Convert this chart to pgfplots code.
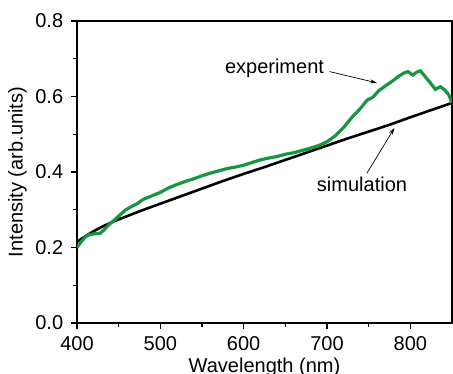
\documentclass[border=0pt]{standalone}
\usepackage{pgfplots}
\pgfplotsset{compat=1.18}
\usepackage{fontspec}
\setmainfont{Liberation Sans}
\usetikzlibrary{arrows.meta}
\definecolor{expgreen}{RGB}{22,150,62}
\begin{document}
\fontsize{20}{24}\selectfont
\begin{tikzpicture}
\begin{axis}[
  scale only axis,
  width=375pt, height=302pt,
  xmin=400, xmax=850, ymin=0, ymax=0.8,
  xtick={400,500,600,700,800},
  minor xtick={450,550,650,750},
  ytick={0,0.2,0.4,0.6,0.8},
  minor ytick={0.1,0.3,0.5,0.7},
  tick align=outside,
  major tick length=6pt,
  minor tick length=4pt,
  xtick pos=bottom, ytick pos=left,
  axis line style={line width=1.4pt},
  every tick/.style={line width=1.4pt, black},
  yticklabel style={/pgf/number format/fixed, /pgf/number format/precision=1, /pgf/number format/fixed zerofill, xshift=-1pt},
  xticklabel style={yshift=-1pt},
  /pgf/number format/assume math mode=true,
  tick label style={font=\fontsize{20}{24}\selectfont},
  label style={font=\fontsize{20}{24}\selectfont},
  xlabel={Wavelength (nm)},
  ylabel={Intensity (arb.units)},
  xlabel style={yshift=7pt},
  ylabel style={yshift=-5pt},
  clip=true,
]
\addplot[black, line width=2.6pt] coordinates {
(400,0.215) (410,0.230) (420,0.243) (430,0.255) (445,0.270) (460,0.283)
(480,0.300) (500,0.316) (525,0.336) (550,0.356) (575,0.376) (600,0.395)
(625,0.413) (650,0.432) (675,0.451) (700,0.470) (725,0.489) (750,0.507)
(775,0.525) (800,0.545) (825,0.564) (850,0.583)
};
\addplot[expgreen, line width=3.2pt] coordinates {
(400,0.200) (405,0.215) (410,0.228) (415,0.234) (420,0.236) (428,0.238)
(433,0.248) (438,0.260) (445,0.273) (452,0.287) (458,0.299) (465,0.308)
(472,0.316) (480,0.328) (490,0.337) (500,0.346) (510,0.358) (520,0.367)
(530,0.375) (540,0.382) (550,0.390) (560,0.397) (570,0.403) (580,0.409)
(590,0.413) (600,0.418) (610,0.425) (620,0.432) (630,0.437) (640,0.441)
(650,0.447) (660,0.451) (670,0.457) (680,0.463) (690,0.470) (700,0.480)
(710,0.496) (720,0.518) (730,0.545) (740,0.568) (748,0.590) (755,0.598)
(762,0.615) (770,0.628) (778,0.640) (785,0.652) (792,0.662) (797,0.666)
(803,0.657) (808,0.665) (812,0.668) (817,0.655) (823,0.639) (830,0.619)
(836,0.626) (841,0.618) (846,0.605) (850,0.583)
};
\node[font=\fontsize{20}{24}\selectfont] at (axis cs:637,0.675) {experiment};
\draw[-{Stealth[length=7pt,width=4pt]}, line width=0.7pt] (axis cs:703,0.666) -- (axis cs:760,0.636);
\node[font=\fontsize{20}{24}\selectfont] at (axis cs:742,0.368) {simulation};
\draw[-{Stealth[length=7pt,width=4pt]}, line width=0.7pt] (axis cs:748,0.397) -- (axis cs:781,0.517);
\end{axis}
\pgfresetboundingbox
\path[use as bounding box] (-77pt,-51pt) rectangle (376pt,323pt);
\end{tikzpicture}
\end{document}
